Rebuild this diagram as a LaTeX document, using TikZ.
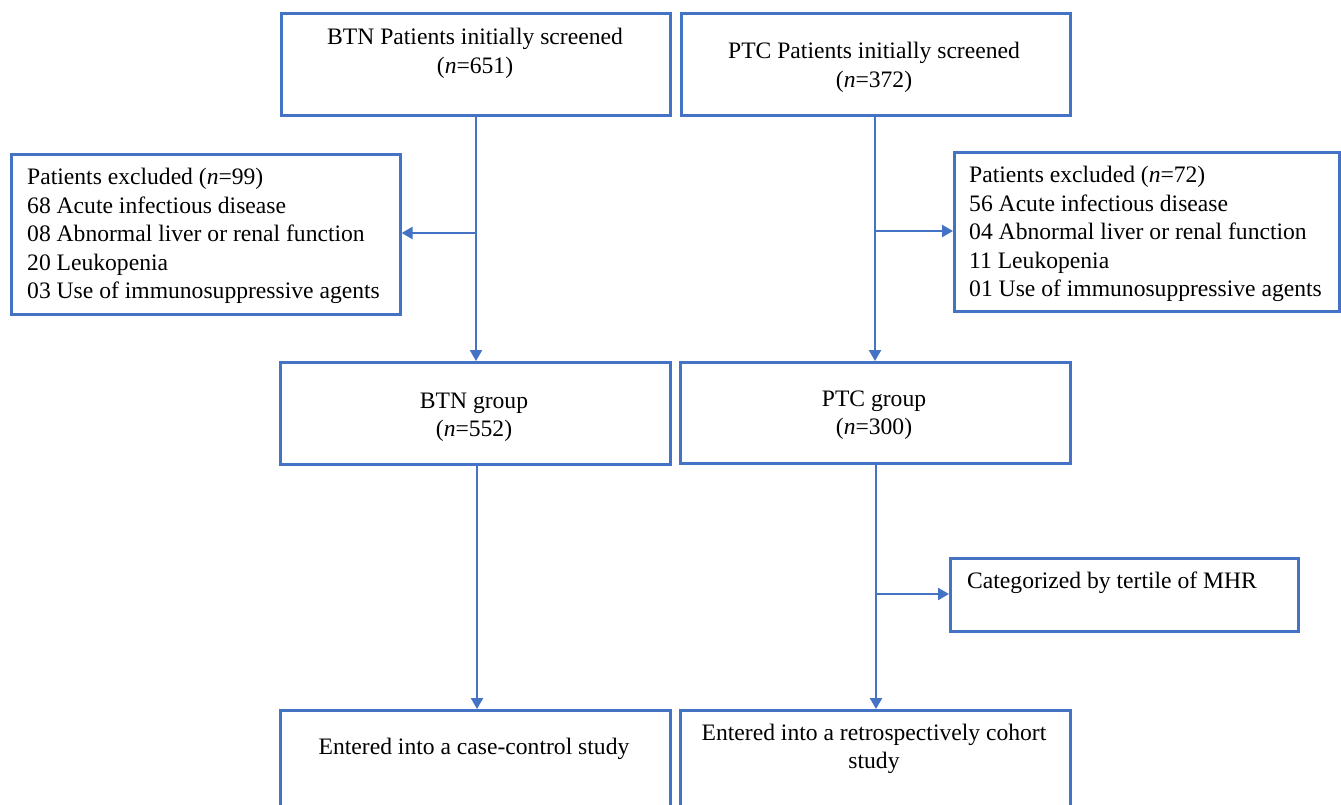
\documentclass[tikz,border=0pt]{standalone}
\usepackage{fontspec}
\setmainfont{Liberation Serif}
\usetikzlibrary{arrows.meta}
\definecolor{fblue}{HTML}{4472C4}
\begin{document}
\begin{tikzpicture}[x=1pt,y=-1pt,
  box/.style={draw=fblue,line width=2.6pt,rectangle,anchor=north west,inner sep=0pt},
  txt/.style={anchor=base,inner sep=0pt,font=\fontsize{23.6}{28}\selectfont},
  ltxt/.style={anchor=base west,inner sep=0pt,font=\fontsize{23.6}{28}\selectfont},
  conn/.style={draw=fblue,line width=2.4pt},
  arr/.style={conn,-{Triangle[length=11pt,width=12pt]}}]
\clip (0,0) rectangle (1341,804);
\fill[white] (0,0) rectangle (1341,804);
% boxes
\node[box,minimum width=389pt,minimum height=102pt] (btnS) at (280,12) {};
\node[box,minimum width=389pt,minimum height=102pt] (ptcS) at (680,12) {};
\node[box,minimum width=389pt,minimum height=160pt] (exL) at (10,153) {};
\node[box,minimum width=385pt,minimum height=159pt] (exR) at (953,151) {};
\node[box,minimum width=390pt,minimum height=102pt] (btnG) at (279,361) {};
\node[box,minimum width=390pt,minimum height=101pt] (ptcG) at (679,361) {};
\node[box,minimum width=348pt,minimum height=73pt] (cat) at (949,557) {};
\node[box,minimum width=390pt,minimum height=130pt] (btnE) at (279,709) {};
\node[box,minimum width=390pt,minimum height=130pt] (ptcE) at (679,709) {};
% texts
\node[txt] (t1a) at (475,44) {BTN Patients initially screened};
\node[txt] (t1b) at (475,73) {(\textit{n}=651)};
\node[txt] (t2a) at (874,58) {PTC Patients initially screened};
\node[txt] (t2b) at (874,87) {(\textit{n}=372)};
\node[ltxt] (e1) at (27,184.5) {Patients excluded (\textit{n}=99)};
\node[ltxt] (e2) at (27,213) {68 Acute infectious disease};
\node[ltxt] (e3) at (27,241.5) {08 Abnormal liver or renal function};
\node[ltxt] (e4) at (27,270) {20 Leukopenia};
\node[ltxt] (e5) at (27,298.5) {03 Use of immunosuppressive agents};
\node[ltxt] (f1) at (969,182.5) {Patients excluded (\textit{n}=72)};
\node[ltxt] (f2) at (969,211) {56 Acute infectious disease};
\node[ltxt] (f3) at (969,239.5) {04 Abnormal liver or renal function};
\node[ltxt] (f4) at (969,268) {11 Leukopenia};
\node[ltxt] (f5) at (969,296.5) {01 Use of immunosuppressive agents};
\node[txt] (g1a) at (474,408) {BTN group};
\node[txt] (g1b) at (474,436) {(\textit{n}=552)};
\node[txt] (g2a) at (874,406) {PTC group};
\node[txt] (g2b) at (874,434) {(\textit{n}=300)};
\node[ltxt] (c1) at (967,588) {Categorized by tertile of MHR};
\node[txt] (h1) at (474,754) {Entered into a case-control study};
\node[txt] (h2a) at (874,740) {Entered into a retrospectively cohort};
\node[txt] (h2b) at (874,768) {study};
% connectors
\coordinate (jL) at (476,233);
\coordinate (jR) at (875,231);
\coordinate (jC) at (876,594);
\draw[arr] (btnS.south -| jL) -- (btnG.north -| jL);
\draw[arr] (jL) -- (exL.east |- jL);
\draw[arr] (ptcS.south -| jR) -- (ptcG.north -| jR);
\draw[arr] (jR) -- (exR.west |- jR);
\draw[arr] (btnG.south -| 477,0) -- (btnE.north -| 477,0);
\draw[arr] (ptcG.south -| jC) -- (ptcE.north -| jC);
\draw[arr] (jC) -- (cat.west |- jC);
\end{tikzpicture}
\end{document}
